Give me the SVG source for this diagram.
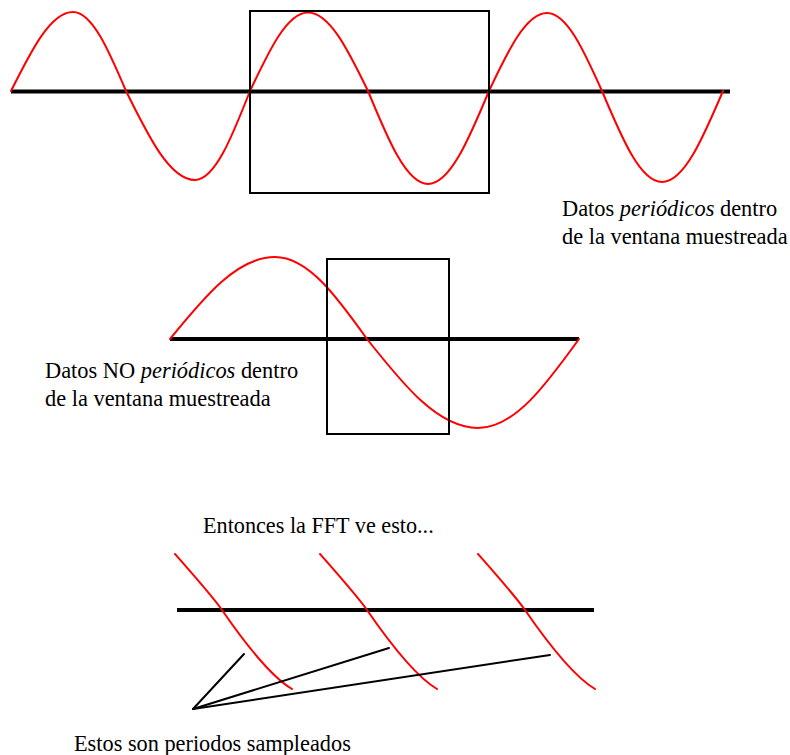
<svg xmlns="http://www.w3.org/2000/svg" xmlns:xlink="http://www.w3.org/1999/xlink" width="790" height="755" viewBox="0 0 790 755">
  <style>
    .axis { stroke: #000; stroke-width: 4; fill: none; }
    .win { stroke: #000; stroke-width: 2; fill: none; }
    .wave { stroke: #ff0000; stroke-width: 2; fill: none; stroke-linecap: round; }
    .ptr { stroke: #000; stroke-width: 2; fill: none; stroke-linecap: round; }
  </style>
  <defs>
    <path id="seg" d="M -47,-56 C -32,-39 -9,-13 0,0 C 20,29 48,66 70,79"/>
  </defs>
  <rect width="790" height="755" fill="#fff"/>

  <g id="periodic">
    <line class="axis" x1="11" y1="91.5" x2="730" y2="91.5"/>
    <path class="wave" d="M 11,91 C 31.2,50.5 50.6,12 73,12 C 92.2,12 108.7,50.5 126,91 C 148.5,136.6 170,180 195,180 C 214.9,180 232.1,136.6 250,91 C 268.9,50.8 287,12.5 308,12.5 C 329.7,12.5 348.4,50.8 368,91 C 387.6,138.6 406.3,184 428,184 C 450.1,184 469.1,138.6 489,91 C 507.9,51 526,13 547,13 C 566.9,13 584.1,51 602,91 C 621.6,137.6 640.3,182 662,182 C 684.1,182 703.1,137.6 723,91"/>
    <rect class="win" x="250" y="11" width="239" height="182"/>
    <text x="562" y="215.5" font-family="'Liberation Serif', serif" font-size="22.4">Datos <tspan font-style="italic">periódicos</tspan> dentro</text>
    <text x="562" y="243.5" font-family="'Liberation Serif', serif" font-size="22.4">de la ventana muestreada</text>
  </g>

  <g id="nonperiodic">
    <line class="axis" x1="170" y1="339" x2="579" y2="339"/>
    <path class="wave" d="M 170,339 C 204.2,297 237,257 275,257 C 308.3,257 337,297 367,339 C 403.2,384.6 437.8,428 478,428 C 514.6,428 546.1,384.6 579,339"/>
    <rect class="win" x="327" y="259" width="122" height="175"/>
    <text x="45" y="378" font-family="'Liberation Serif', serif" font-size="22.4">Datos NO <tspan font-style="italic">periódicos</tspan> dentro</text>
    <text x="45" y="406" font-family="'Liberation Serif', serif" font-size="22.4">de la ventana muestreada</text>
  </g>

  <g id="fftview">
    <text x="203" y="533" font-family="'Liberation Serif', serif" font-size="22.2">Entonces la FFT ve esto...</text>
    <line class="axis" x1="177" y1="610" x2="594" y2="610"/>
    <use class="wave" xlink:href="#seg" transform="translate(222,610)"/>
    <use class="wave" xlink:href="#seg" transform="translate(367,610)"/>
    <use class="wave" xlink:href="#seg" transform="translate(525,610)"/>
  </g>

  <g id="connectors">
    <line class="ptr" x1="193" y1="709" x2="244" y2="654"/>
    <line class="ptr" x1="193" y1="709" x2="389" y2="648"/>
    <line class="ptr" x1="193" y1="709" x2="550" y2="655"/>
  </g>

  <g id="caption">
    <text x="74" y="751" font-family="'Liberation Serif', serif" font-size="22.3">Estos son periodos sampleados</text>
  </g>
</svg>
